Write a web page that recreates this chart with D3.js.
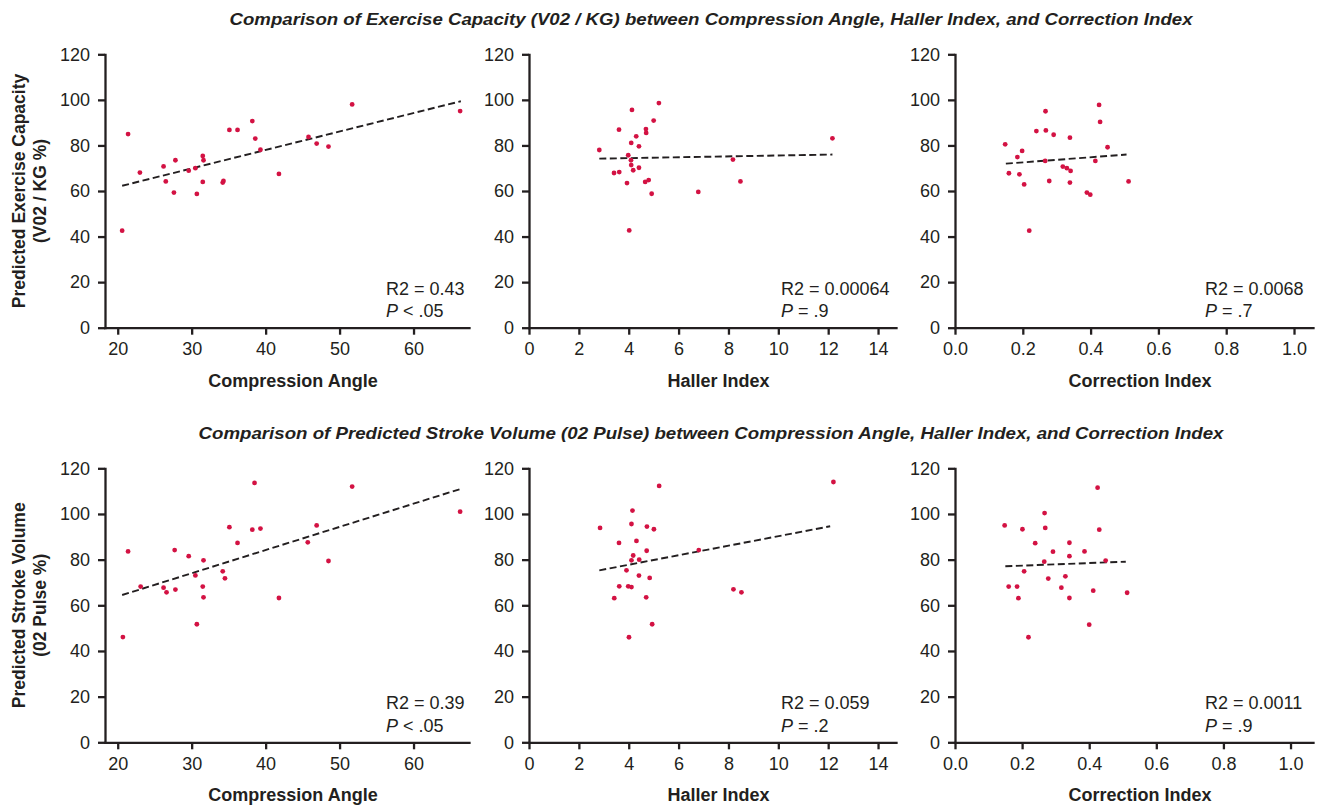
<!DOCTYPE html>
<html>
<head>
<meta charset="utf-8">
<script src="https://cdn.jsdelivr.net/npm/d3@7"></script>
<style>
  body { margin: 0; background: #fff; }
  svg text { font-family: "Liberation Sans", Arial, sans-serif; fill: #231f20; }
  .axis path, .axis line { stroke: #231f20; stroke-width: 2.3; }
  .axis text { font-size: 18px; }
</style>
</head>
<body>
<div id="chart"></div>
<script>
// values, one pair of arrays per panel

// top row: exercise capacity (V02 / KG %)
var vo2AngleX = [20.6, 21.4, 23.0, 26.2, 26.5, 27.6, 27.8, 29.6, 30.5, 30.7, 31.5, 31.6, 31.5, 34.2, 34.3, 35.1, 36.2, 38.2, 38.6, 39.3, 41.8, 45.8, 46.9, 48.5, 51.7, 66.3];
var vo2AngleY = [42.6, 85.0, 68.1, 70.8, 64.2, 59.3, 73.5, 68.9, 70.0, 58.7, 75.4, 73.5, 64.0, 63.7, 64.4, 86.8, 86.8, 90.7, 83.0, 78.1, 67.5, 83.7, 80.8, 79.5, 98.0, 95.1];

var vo2HallerX = [2.82, 3.41, 3.62, 3.61, 3.93, 3.98, 4.02, 4.09, 4.10, 4.10, 4.13, 4.18, 4.30, 4.41, 4.41, 4.66, 4.69, 4.70, 4.80, 4.92, 5.00, 5.21, 6.79, 8.18, 8.48, 12.17];
var vo2HallerY = [78.0, 67.9, 68.3, 86.9, 63.5, 75.7, 42.7, 73.5, 71.4, 81.1, 95.6, 69.1, 84.0, 79.6, 70.2, 64.0, 87.2, 85.5, 64.8, 58.8, 90.9, 98.6, 59.6, 73.8, 64.2, 83.1];

var vo2CorrX = [0.148, 0.159, 0.184, 0.190, 0.198, 0.204, 0.219, 0.240, 0.267, 0.268, 0.266, 0.278, 0.291, 0.318, 0.330, 0.341, 0.339, 0.339, 0.389, 0.399, 0.414, 0.425, 0.428, 0.450, 0.512];
var vo2CorrY = [80.5, 67.8, 74.9, 67.3, 77.6, 62.9, 42.6, 86.3, 95.0, 86.6, 73.2, 64.4, 84.7, 70.7, 70.0, 68.8, 83.4, 63.7, 59.3, 58.4, 73.2, 97.8, 90.3, 79.2, 64.2];

// bottom row: stroke volume (02 pulse %)
var svAngleX = [20.7, 21.4, 23.1, 26.2, 26.6, 27.7, 27.8, 29.6, 30.5, 30.7, 31.6, 31.5, 31.6, 34.2, 34.5, 35.1, 36.2, 38.2, 38.5, 39.3, 41.8, 45.7, 46.9, 48.5, 51.7, 66.3];
var svAngleY = [46.1, 83.6, 68.2, 67.7, 65.7, 84.2, 66.9, 81.5, 73.1, 51.7, 79.7, 68.2, 63.5, 74.9, 71.8, 94.2, 87.3, 93.1, 113.6, 93.6, 63.2, 87.6, 95.0, 79.4, 112.0, 101.0];

var svHallerX = [2.85, 3.42, 3.61, 3.62, 3.91, 3.98, 4.01, 4.11, 4.11, 4.11, 4.15, 4.18, 4.31, 4.41, 4.42, 4.70, 4.72, 4.73, 4.84, 4.94, 5.01, 5.22, 6.81, 8.20, 8.52, 12.21];
var svHallerY = [93.9, 63.1, 87.3, 68.3, 75.3, 68.3, 46.0, 68.0, 79.7, 95.6, 101.5, 81.8, 88.2, 73.0, 80.0, 63.5, 83.9, 94.5, 72.0, 51.7, 93.3, 112.3, 84.2, 67.0, 65.7, 114.0];

var svCorrX = [0.148, 0.160, 0.185, 0.189, 0.201, 0.206, 0.219, 0.239, 0.267, 0.269, 0.266, 0.278, 0.292, 0.317, 0.329, 0.341, 0.341, 0.341, 0.386, 0.400, 0.412, 0.425, 0.430, 0.449, 0.513];
var svCorrY = [95.0, 68.2, 68.2, 63.1, 93.3, 74.9, 46.0, 87.2, 100.4, 93.9, 79.1, 71.7, 83.5, 67.7, 72.7, 87.4, 81.5, 63.2, 83.6, 51.5, 66.4, 111.5, 93.1, 79.6, 65.5];

// fitted lines, start and end as drawn
var trendVo2Angle  = [[20.6, 62.3], [66.4, 99.4]];
var trendVo2Haller = [[2.82, 74.2], [12.17, 76.0]];
var trendVo2Corr   = [[0.150, 72.0], [0.506, 76.0]];
var trendSvAngle   = [[20.6, 64.5], [66.3, 110.9]];
var trendSvHaller  = [[2.82, 75.3], [12.08, 94.6]];
var trendSvCorr    = [[0.150, 77.1], [0.509, 79.1]];

var r2Labels = ["R2 = 0.43", "R2 = 0.00064", "R2 = 0.0068", "R2 = 0.39", "R2 = 0.059", "R2 = 0.0011"];
var pSigns   = ["< .05", "= .9", "= .7", "< .05", "= .2", "= .9"];

var xTitles = ["Compression Angle", "Haller Index", "Correction Index"];
var yTitles = [["Predicted Exercise Capacity", "(V02 / KG %)"], ["Predicted Stroke Volume", "(02 Pulse %)"]];
var rowTitles = [
  "Comparison of Exercise Capacity (V02 / KG) between Compression Angle, Haller Index, and Correction Index",
  "Comparison of Predicted Stroke Volume (02 Pulse) between Compression Angle, Haller Index, and Correction Index"
];

var angleTicks = [20, 30, 40, 50, 60];
var hallerTicks = [0, 2, 4, 6, 8, 10, 12, 14];
var corrTicks = [0, 0.2, 0.4, 0.6, 0.8, 1.0];
var yTicks = [0, 20, 40, 60, 80, 100, 120];

var svgWidth = 1321;
var svgHeight = 805;

var svg = d3.select("#chart")
  .append("svg")
  .attr("width", svgWidth)
  .attr("height", svgHeight);

// row geometry (pixel top/bottom of the y range)
var rows = [
  { top: 54.3, bottom: 327.7, titleY: 25 },
  { top: 468.3, bottom: 742.3, titleY: 439 }
];

// each panel: x domain and pixel range of its axis line
var panels = [
  { row: 0, col: 0, x: vo2AngleX, y: vo2AngleY, trend: trendVo2Angle, dom: [18.28, 67.5], rng: [105, 469], ticks: angleTicks, fmt: d3.format("d"), note: 386 },
  { row: 0, col: 1, x: vo2HallerX, y: vo2HallerY, trend: trendVo2Haller, dom: [0, 14.72], rng: [529, 896], ticks: hallerTicks, fmt: d3.format("d"), note: 781 },
  { row: 0, col: 2, x: vo2CorrX, y: vo2CorrY, trend: trendVo2Corr, dom: [0, 1.056], rng: [955, 1313], ticks: corrTicks, fmt: d3.format(".1f"), note: 1205 },
  { row: 1, col: 0, x: svAngleX, y: svAngleY, trend: trendSvAngle, dom: [18.28, 67.5], rng: [105, 469], ticks: angleTicks, fmt: d3.format("d"), note: 386 },
  { row: 1, col: 1, x: svHallerX, y: svHallerY, trend: trendSvHaller, dom: [0, 14.72], rng: [529, 896], ticks: hallerTicks, fmt: d3.format("d"), note: 781 },
  { row: 1, col: 2, x: svCorrX, y: svCorrY, trend: trendSvCorr, dom: [0, 1.067], rng: [955, 1313], ticks: corrTicks, fmt: d3.format(".1f"), note: 1205 }
];

// row titles
rows.forEach(function(row, i) {
  svg.append("text")
    .attr("x", 711)
    .attr("y", row.titleY)
    .attr("text-anchor", "middle")
    .attr("font-size", 17)
    .attr("font-weight", "bold")
    .attr("font-style", "italic")
    .attr("textLength", i == 0 ? 963 : 1025)
    .attr("lengthAdjust", "spacingAndGlyphs")
    .text(rowTitles[i]);

  // y axis title, two lines
  var cy = (row.top + row.bottom) / 2;
  yTitles[i].forEach(function(line, j) {
    svg.append("text")
      .attr("transform", `translate(${25 + j * 21}, ${cy}) rotate(-90)`)
      .attr("text-anchor", "middle")
      .attr("font-size", 17.5)
      .attr("font-weight", "bold")
      .text(line);
  });
});

panels.forEach(function(p, i) {
  var row = rows[p.row];

  var xScale = d3.scaleLinear().domain(p.dom).range(p.rng);
  var yScale = d3.scaleLinear().domain([0, 120]).range([row.bottom, row.top]);

  var g = svg.append("g");

  // axes
  g.append("g")
    .attr("class", "axis")
    .attr("transform", `translate(0, ${row.bottom})`)
    .call(d3.axisBottom(xScale).tickValues(p.ticks).tickFormat(p.fmt).tickSize(7).tickSizeOuter(0).tickPadding(8));

  g.append("g")
    .attr("class", "axis")
    .attr("transform", `translate(${p.rng[0]}, 0)`)
    .call(d3.axisLeft(yScale).tickValues(yTicks).tickSize(7).tickSizeOuter(0).tickPadding(8));

  g.selectAll(".axis .domain").attr("stroke-linecap", "square");

  // x title
  g.append("text")
    .attr("x", (p.rng[0] + p.rng[1]) / 2 + 6)
    .attr("y", row.bottom + 59)
    .attr("text-anchor", "middle")
    .attr("font-size", 18)
    .attr("font-weight", "bold")
    .text(xTitles[p.col]);

  // trend line
  var line = d3.line()
    .x(d => xScale(d[0]))
    .y(d => yScale(d[1]));

  g.append("path")
    .datum(p.trend)
    .attr("d", line)
    .attr("fill", "none")
    .attr("stroke", "#231f20")
    .attr("stroke-width", 1.9)
    .attr("stroke-dasharray", "7,3.5");

  // points
  var pts = p.x.map((v, k) => ({ x: v, y: p.y[k] }));
  g.selectAll("circle")
    .data(pts)
    .enter()
    .append("circle")
    .attr("cx", d => xScale(d.x))
    .attr("cy", d => yScale(d.y))
    .attr("r", 2.4)
    .attr("fill", "#d31243");

  // stats note
  var base = row.bottom - 33;
  g.append("text")
    .attr("x", p.note)
    .attr("y", base)
    .attr("font-size", 18)
    .text(r2Labels[i]);

  var pt = g.append("text")
    .attr("x", p.note)
    .attr("y", base + 22.7)
    .attr("font-size", 18);
  pt.append("tspan").attr("font-style", "italic").text("P");
  pt.append("tspan").text(" " + pSigns[i]);
});
</script>
</body>
</html>
